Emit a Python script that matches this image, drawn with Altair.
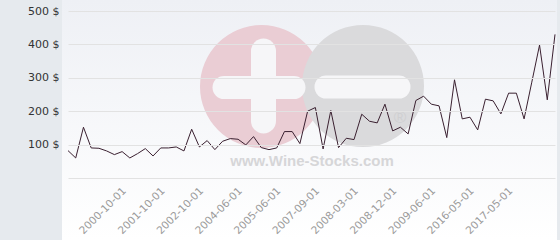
import altair as alt
import pandas as pd

# ---- data ----
prices = [82, 60, 152, 90, 89, 81, 70, 79, 60, 73,
          88, 66, 90, 90, 93, 81, 146, 93, 112, 85,
          110, 118, 116, 99, 124, 91, 85, 90, 139, 139,
          103, 200, 211, 87, 202, 91, 119, 115, 191, 170,
          165, 221, 141, 152, 132, 232, 245, 221, 216, 121,
          294, 177, 182, 144, 236, 231, 192, 254, 254, 177,
          287, 398, 234, 430]
tick_positions = [7, 12, 17, 22, 27, 32, 37, 42, 47, 52, 57]
tick_labels = ["2000-10-01", "2001-10-01", "2002-10-01", "2004-06-01",
               "2005-06-01", "2007-09-01", "2008-03-01", "2008-12-01",
               "2009-06-01", "2016-05-01", "2017-05-01"]
y_ticks = [0, 100, 200, 300, 400, 500]

df = pd.DataFrame({"idx": list(range(len(prices))), "price": prices})

W, H = 487, 167
FONT = "DejaVu Sans"
one = alt.Data(values=[{}])

pos_list = ",".join(str(p) for p in tick_positions)
lab_list = ",".join("'" + s + "'" for s in tick_labels)
x_label_expr = f"[{lab_list}][indexof([{pos_list}], datum.value)]"

# ---- decoration: plot background gradient ----
bg = alt.Chart(one).mark_rect(
    color=alt.LinearGradient(
        gradient="linear",
        stops=[alt.GradientStop(color="#eef0f5", offset=0),
               alt.GradientStop(color="#ffffff", offset=1)],
        x1=0, x2=0, y1=0, y2=1,
    )
).encode(x=alt.value(-6), x2=alt.value(W + 2), y=alt.value(-11), y2=alt.value(H + 62))

# ---- decoration: watermark logo ----
pink = alt.Chart(one).mark_point(shape="circle", filled=True, opacity=1,
                                 size=123 * 123, color="#eacdd4").encode(
    x=alt.value(193.5), y=alt.value(75.5))
grey = alt.Chart(one).mark_point(shape="circle", filled=True, opacity=1,
                                 size=122 * 122, color="#dadadc").encode(
    x=alt.value(295), y=alt.value(75))
plus_h = alt.Chart(one).mark_rule(strokeCap="round", strokeWidth=23, color="#f6f6f8").encode(
    x=alt.value(156), x2=alt.value(226), y=alt.value(76.5))
plus_v = alt.Chart(one).mark_rule(strokeCap="round", strokeWidth=25, color="#f6f6f8").encode(
    x=alt.value(195.5), y=alt.value(40), y2=alt.value(110))
minus = alt.Chart(one).mark_rule(strokeCap="round", strokeWidth=23, color="#f6f6f8").encode(
    x=alt.value(258), x2=alt.value(331), y=alt.value(76))
reg = alt.Chart(one).mark_text(text="®", fontSize=17, font="Liberation Sans",
                               color="#cfcfd1").encode(x=alt.value(332), y=alt.value(107))
url = alt.Chart(one).mark_text(text="www.Wine-Stocks.com", font="Liberation Sans",
                               fontWeight="bold", fontSize=15, color="#d6d6d8").encode(
    x=alt.value(244), y=alt.value(150))

# ---- the data line ----
line = alt.Chart(df).mark_line(color="#3a2030", strokeWidth=1).encode(
    x=alt.X("idx:Q",
            scale=alt.Scale(domain=[0, len(prices) - 1], nice=False, zero=False),
            axis=alt.Axis(values=tick_positions, labelExpr=x_label_expr, title=None,
                          grid=False, domain=False, ticks=False,
                          labelAngle=-45, labelAlign="right", labelBaseline="middle",
                          labelPadding=11, labelOffset=2, labelFont=FONT,
                          labelFontSize=10.5, labelColor="#9a9a9a",
                          labelOverlap=False, labelFlush=False, zindex=1)),
    y=alt.Y("price:Q",
            scale=alt.Scale(domain=[0, 500], nice=False),
            axis=alt.Axis(values=y_ticks,
                          labelExpr="datum.value == 0 ? '' : datum.value + ' $'",
                          title=None, grid=True, gridColor="#e2e2e2", gridWidth=1,
                          domain=False, ticks=False, labelPadding=9,
                          labelFont=FONT, labelFontSize=11, labelColor="#333333",
                          labelFlush=False, zindex=1)),
)

chart = alt.layer(bg, pink, grey, plus_h, plus_v, minus, reg, url, line).properties(
    width=W, height=H,
    padding={"left": 68, "top": 11, "right": 5, "bottom": 62},
    autosize=alt.AutoSizeParams(type="none"),
    background="#e6eaee",
).configure_view(stroke=None)

chart.save("out.html", embed_options={"renderer": "svg", "actions": False})
